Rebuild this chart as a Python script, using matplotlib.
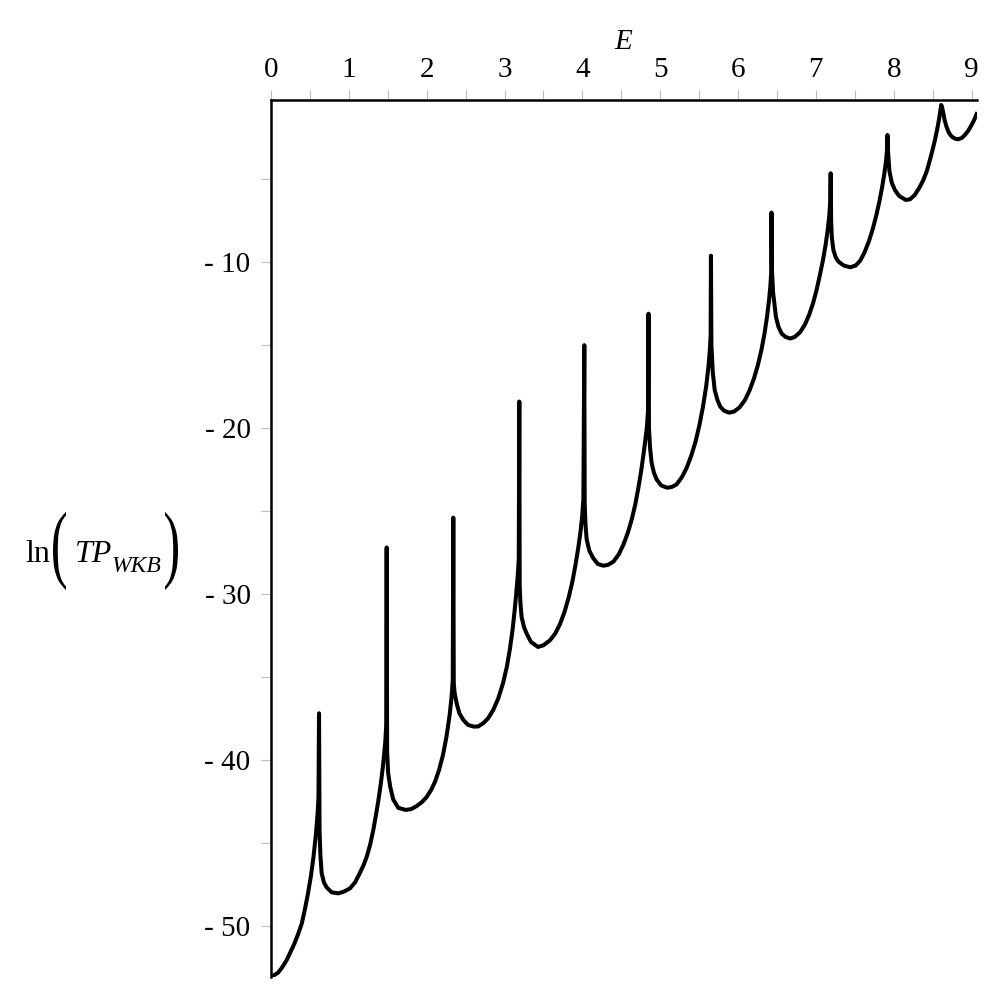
import matplotlib
matplotlib.use("Agg")
import matplotlib.pyplot as plt
from matplotlib.ticker import MultipleLocator, FixedLocator
from matplotlib.textpath import TextPath
from matplotlib.font_manager import FontProperties
from matplotlib.patches import PathPatch
from matplotlib.transforms import Affine2D

# ---- data (E, ln(TP_WKB)) ----
energy = [
    0.000, 0.040, 0.090, 0.140, 0.200, 0.250, 0.300, 0.350, 0.394, 0.430, 0.470, 0.510, 0.545,
    0.575, 0.598, 0.610, 0.617,
    0.624, 0.635, 0.651, 0.680, 0.715, 0.780, 0.866, 0.940, 1.015, 1.080, 1.140, 1.190, 1.230,
    1.275, 1.314, 1.350, 1.378, 1.400, 1.420, 1.438, 1.455, 1.470, 1.480, 1.486,
    1.492, 1.505, 1.530, 1.570, 1.635, 1.730, 1.800, 1.870, 1.940, 2.000, 2.060, 2.110, 2.160,
    2.210, 2.255, 2.295, 2.320, 2.335, 2.342,
    2.348, 2.360, 2.385, 2.420, 2.470, 2.530, 2.600, 2.660, 2.727, 2.790, 2.855, 2.920, 2.980,
    3.030, 3.070, 3.105, 3.130, 3.150, 3.170, 3.183, 3.190,
    3.195, 3.205, 3.220, 3.250, 3.285, 3.340, 3.430, 3.500, 3.584, 3.650, 3.710, 3.770, 3.825,
    3.870, 3.910, 3.945, 3.975, 3.998, 4.013, 4.025,
    4.030, 4.040, 4.055, 4.090, 4.140, 4.200, 4.270, 4.330, 4.400, 4.470, 4.530, 4.585, 4.635,
    4.680, 4.720, 4.755, 4.785, 4.810, 4.830, 4.843, 4.850,
    4.856, 4.870, 4.890, 4.920, 4.955, 5.010, 5.090, 5.150, 5.210, 5.280, 5.340, 5.400, 5.455,
    5.505, 5.550, 5.590, 5.620, 5.638, 5.648, 5.652,
    5.658, 5.675, 5.700, 5.735, 5.770, 5.820, 5.885, 5.950, 6.020, 6.090, 6.150, 6.205, 6.255,
    6.300, 6.340, 6.372, 6.398, 6.416, 6.426, 6.430,
    6.436, 6.450, 6.487, 6.520, 6.560, 6.610, 6.670, 6.730, 6.800, 6.860, 6.915, 6.965, 7.010,
    7.050, 7.090, 7.125, 7.152, 7.172, 7.184, 7.190,
    7.196, 7.205, 7.225, 7.255, 7.290, 7.360, 7.440, 7.510, 7.570, 7.625, 7.680, 7.730, 7.775,
    7.815, 7.850, 7.878, 7.900, 7.913, 7.920,
    7.928, 7.945, 7.975, 8.015, 8.070, 8.155, 8.210, 8.270, 8.330, 8.380, 8.425, 8.465, 8.500,
    8.530, 8.560, 8.585, 8.600, 8.610, 8.620, 8.635, 8.655, 8.680, 8.710, 8.745, 8.790, 8.830,
    8.875, 8.915, 8.960, 9.000, 9.035, 9.065,
]
ln_tp = [
    -53.1, -53.0, -52.85, -52.55, -52.1, -51.6, -51.1, -50.5, -49.9, -49.15, -48.2, -47.1, -45.9,
    -44.6, -43.3, -42.3, -37.2,
    -44.3, -45.8, -46.85, -47.4, -47.7, -48.0, -48.06, -47.95, -47.76, -47.4, -46.85, -46.35, -45.85,
    -45.1, -44.24, -43.3, -42.5, -41.8, -41.1, -40.4, -39.6, -38.8, -37.9, -27.2,
    -39.5, -40.8, -41.6, -42.4, -42.9, -43.03, -42.98, -42.8, -42.55, -42.25, -41.8, -41.3, -40.6,
    -39.7, -38.6, -37.3, -36.2, -35.2, -25.4,
    -35.4, -36.0, -36.6, -37.2, -37.6, -37.9, -38.0, -38.0, -37.8, -37.5, -37.0, -36.3, -35.4,
    -34.4, -33.3, -32.1, -31.0, -30.0, -28.9, -27.9, -18.4,
    -29.5, -30.6, -31.4, -32.0, -32.4, -32.9, -33.2, -33.1, -32.8, -32.4, -31.85, -31.1, -30.2,
    -29.3, -28.3, -27.3, -26.3, -25.3, -24.3, -15.0,
    -24.5, -25.8, -26.7, -27.4, -27.85, -28.2, -28.3, -28.25, -28.05, -27.6, -27.0, -26.3, -25.5,
    -24.6, -23.6, -22.6, -21.6, -20.7, -19.9, -19.0, -13.1,
    -20.0, -21.2, -22.1, -22.7, -23.1, -23.45, -23.6, -23.55, -23.4, -22.95, -22.4, -21.65, -20.8,
    -19.8, -18.7, -17.5, -16.3, -15.3, -14.4, -9.6,
    -15.0, -16.6, -17.7, -18.3, -18.7, -18.95, -19.07, -19.0, -18.75, -18.3, -17.7, -17.0, -16.2,
    -15.3, -14.3, -13.3, -12.3, -11.4, -10.6, -7.0,
    -10.5, -11.8, -13.3, -13.9, -14.3, -14.5, -14.6, -14.5, -14.2, -13.75, -13.15, -12.45, -11.65,
    -10.8, -9.9, -8.95, -8.05, -7.2, -6.4, -4.63,
    -7.5, -8.5, -9.26, -9.7, -9.96, -10.2, -10.3, -10.2, -9.9, -9.4, -8.75, -8.0, -7.2,
    -6.35, -5.5, -4.7, -3.95, -3.3, -2.32,
    -3.4, -4.5, -5.2, -5.64, -6.0, -6.24, -6.2, -5.94, -5.5, -5.04, -4.5, -3.83, -3.2,
    -2.62, -1.95, -1.3, -0.8, -0.51, -0.62, -0.95, -1.45, -1.85, -2.2, -2.42, -2.55, -2.58,
    -2.5, -2.32, -2.05, -1.72, -1.4, -1.06,
]
x_ticks = [0, 1, 2, 3, 4, 5, 6, 7, 8, 9]
y_ticks = [-10, -20, -30, -40, -50]
y_tick_labels = ["- 10", "- 20", "- 30", "- 40", "- 50"]

# ---- style ----
plt.rcParams["font.family"] = ["Liberation Serif", "DejaVu Serif"]
plt.rcParams["mathtext.fontset"] = "custom"
plt.rcParams["mathtext.rm"] = "Liberation Serif"
plt.rcParams["mathtext.it"] = "Liberation Serif:italic"

W = 997
fig = plt.figure(figsize=(W / 100, W / 100), dpi=100)
ax = fig.add_axes([271 / W, 1 - 976.9 / W, 706 / W, 877.1 / W])

ax.plot(energy, ln_tp, color="black", lw=2.9, solid_joinstyle="round")

ax.set_xlim(0, 9.07)
ax.set_ylim(-53.1, -0.2)

for s in ["right", "bottom"]:
    ax.spines[s].set_visible(False)
for s in ["left", "top"]:
    ax.spines[s].set_linewidth(1.8)
    ax.spines[s].set_color("black")

ax.xaxis.set_ticks_position("top")
ax.xaxis.set_label_position("top")
ax.set_xticks(x_ticks)
ax.set_xticklabels([str(v) for v in x_ticks])
ax.xaxis.set_minor_locator(MultipleLocator(0.5))
ax.set_yticks(y_ticks)
ax.set_yticklabels(y_tick_labels)
ax.yaxis.set_minor_locator(FixedLocator([-5, -15, -25, -35, -45]))

tick_col = "#bdbdbd"
ax.tick_params(axis="both", which="both", direction="out", length=7.2, width=0.8,
               color=tick_col, labelsize=21, labelcolor="black")
ax.tick_params(axis="x", which="major", pad=5)
ax.tick_params(axis="y", which="major", pad=7.5)

ax.set_xlabel(r"$E$", fontsize=21, labelpad=6)


# ---- y label  ln( TP_WKB ) built from pieces (pixel positions, image coords) ----
def fpos(x, y):
    return x / W, 1 - y / W


base = 562
fig.text(*fpos(25, base), "ln", fontsize=23, ha="left", va="baseline")
fig.text(*fpos(75, base), "TP", fontsize=23, style="italic", ha="left", va="baseline")
fig.text(*fpos(111, base + 10), "WKB", fontsize=17, style="italic", ha="left", va="baseline")

fp = FontProperties(family="Liberation Serif")


def paren(ch, x0, x1, ytop, ybot):
    p = TextPath((0, 0), ch, size=40, prop=fp)
    ext = p.get_extents()
    sx = (x1 - x0) / ext.width
    sy = (ybot - ytop) / ext.height
    tr = (Affine2D().translate(-ext.x0, -ext.y0).scale(sx, sy)
          .translate(x0, W - ybot))
    fig.add_artist(PathPatch(tr.transform_path(p), transform=None,
                             facecolor="black", edgecolor="none"))


paren("(", 53, 66, 512, 590)
paren(")", 165, 178, 512, 590)

fig.savefig("out.png", dpi=100)
